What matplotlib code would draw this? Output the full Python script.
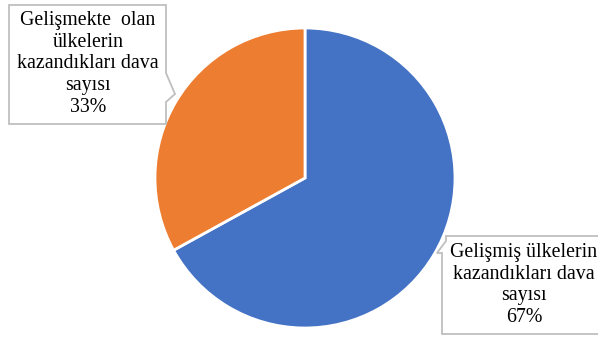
import matplotlib
matplotlib.use("Agg")
import matplotlib.pyplot as plt
from matplotlib.patches import Polygon

# データ
labels = ["Gelişmiş ülkelerin\nkazandıkları dava\nsayısı\n67%",
          "Gelişmekte  olan\nülkelerin\nkazandıkları dava\nsayısı\n33%"]
values = [67, 33]
colors = ["#4472C4", "#ED7D31"]

W, H = 598, 337
plt.rcParams['font.family'] = ['Liberation Serif', 'DejaVu Serif']

fig = plt.figure(figsize=(W / 100, H / 100), dpi=100)
ax = fig.add_axes([0, 0, 1, 1])
ax.set_xlim(0, W)
ax.set_ylim(0, H)
ax.set_aspect('equal')
ax.axis('off')

# 円グラフ（ピクセル座標系）
ax.pie(values, colors=colors, startangle=90, counterclock=False,
       center=(305, H - 178), radius=150,
       wedgeprops=dict(edgecolor='white', linewidth=2))
ax.set_xlim(0, W)
ax.set_ylim(0, H)


def callout(pts, text, tx, ty):
    # 吹き出し枠（画像座標 → 軸座標）
    poly = Polygon([(x, H - y) for x, y in pts], closed=True,
                   facecolor='white', edgecolor='#BFBFBF', linewidth=1.3, zorder=3)
    ax.add_patch(poly)
    ax.text(tx, H - ty, text, ha='center', va='center', fontsize=14.3,
            color='#000000', linespacing=1.2, zorder=4)


# 左の吹き出し（33%）
callout([(9, 5), (166, 5), (166, 73), (175, 94), (166, 102), (166, 124), (9, 124)],
        labels[1], 88, 64)
# 右の吹き出し（67%）
callout([(446, 236), (605, 236), (605, 334), (442, 334), (442, 253), (437, 253), (446, 241)],
        labels[0], 524, 285)

fig.savefig("out.png", dpi=100)
